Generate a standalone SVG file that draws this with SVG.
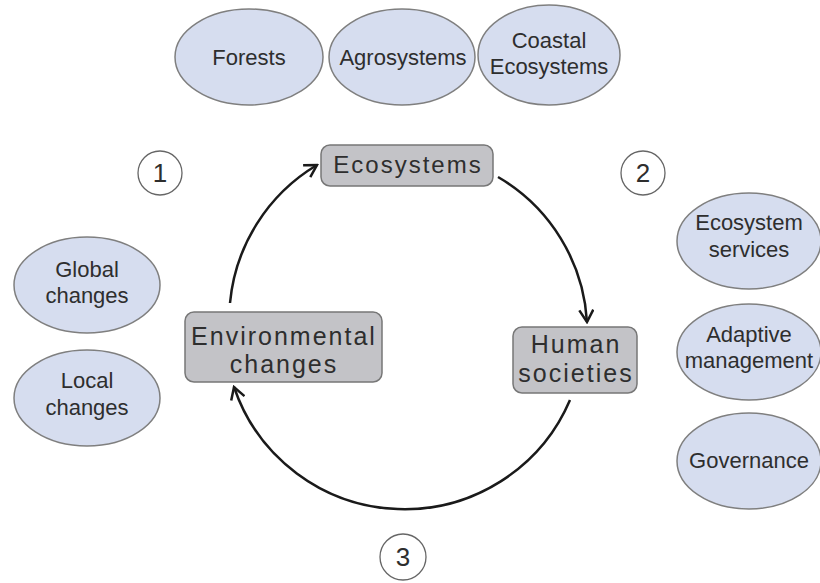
<svg xmlns="http://www.w3.org/2000/svg" width="820" height="583" viewBox="0 0 820 583">
<defs>
<style>
.ell{fill:#d6ddef;stroke:#7f7f7f;stroke-width:1.5}
.box{fill:#c3c3c7;stroke:#777;stroke-width:1.5}
.num{fill:#fff;stroke:#666;stroke-width:1.3}
.t{font-family:"Liberation Sans",Arial,sans-serif;fill:#2e2e2e;text-anchor:middle}
.et{font-size:22px}
.bt{font-size:25px;letter-spacing:2px}
.nt{font-size:26px}
.arc{fill:none;stroke:#1a1a1a;stroke-width:2.5}
</style>
<marker id="ah" viewBox="0 0 16 16" refX="14" refY="8" markerWidth="16" markerHeight="16" markerUnits="userSpaceOnUse" orient="auto">
<path d="M2,1 L14,8 L2,15" fill="none" stroke="#1a1a1a" stroke-width="2.5"/>
</marker>
</defs>
<rect width="820" height="583" fill="#fff"/>
<g id="connectors">
<path class="arc" d="M230,303 A180,180 0 0 1 317,165" marker-end="url(#ah)"/>
<path class="arc" d="M498,177 A180,180 0 0 1 587,322" marker-end="url(#ah)"/>
<path class="arc" d="M570,400 A180,180 0 0 1 234,387" marker-end="url(#ah)"/>
</g>
<g id="forests"><ellipse class="ell" cx="249" cy="57" rx="74" ry="48"/><text class="t et" x="249" y="65">Forests</text></g>
<g id="agrosystems"><ellipse class="ell" cx="402" cy="57" rx="73" ry="48"/><text class="t et" x="403" y="65">Agrosystems</text></g>
<g id="coastal"><ellipse class="ell" cx="549" cy="55" rx="71" ry="50"/><text class="t et" x="549" y="48">Coastal</text><text class="t et" x="549" y="74">Ecosystems</text></g>
<g id="ecosystems"><rect class="box" x="321" y="145" width="172" height="41" rx="9"/><text class="t bt" x="408" y="173" style="font-size:24px">Ecosystems</text></g>
<g id="env"><rect class="box" x="185" y="312" width="197" height="70" rx="9"/><text class="t bt" x="284" y="345">Environmental</text><text class="t bt" x="284" y="373">changes</text></g>
<g id="human"><rect class="box" x="513" y="327" width="124" height="66" rx="9"/><text class="t bt" x="576" y="353">Human</text><text class="t bt" x="576" y="382">societies</text></g>
<g id="global"><ellipse class="ell" cx="87" cy="285" rx="73" ry="48"/><text class="t et" x="87" y="277">Global</text><text class="t et" x="87" y="303">changes</text></g>
<g id="local"><ellipse class="ell" cx="87" cy="398" rx="73" ry="48"/><text class="t et" x="87" y="388">Local</text><text class="t et" x="87" y="415">changes</text></g>
<g id="services"><ellipse class="ell" cx="749" cy="241" rx="72" ry="48"/><text class="t et" x="749" y="230">Ecosystem</text><text class="t et" x="749" y="257">services</text></g>
<g id="adaptive"><ellipse class="ell" cx="749" cy="352" rx="72" ry="48"/><text class="t et" x="749" y="342">Adaptive</text><text class="t et" x="749" y="368">management</text></g>
<g id="governance"><ellipse class="ell" cx="749" cy="461" rx="72" ry="48"/><text class="t et" x="749" y="468">Governance</text></g>
<g id="n1"><circle class="num" cx="160" cy="173" r="22"/><text class="t nt" x="160" y="182">1</text></g>
<g id="n2"><circle class="num" cx="643" cy="173" r="22"/><text class="t nt" x="643" y="182">2</text></g>
<g id="n3"><circle class="num" cx="403" cy="557" r="23"/><text class="t nt" x="403" y="566">3</text></g>
</svg>
